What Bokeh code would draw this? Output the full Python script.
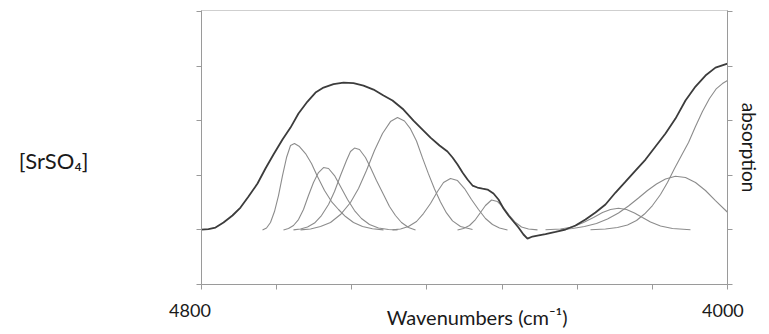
from bokeh.plotting import figure
from bokeh.models import Range1d, FixedTicker, LinearAxis
from bokeh.embed import file_html
from bokeh.resources import INLINE

# ---------------- data ----------------
x_ticks = [4800, 4685.7, 4571.4, 4457.1, 4342.9, 4228.6, 4114.3, 4000]
x_end_labels = ["4800", "4000"]
y_ticks = [0, 1, 2, 3, 4, 5]
y_label_pos = 2.28
y_label = "[SrSO\u2084]"
x_title = "Wavenumbers (cm\u207b\u00b9)"
r_title = "absorption"

spec_w = [4800, 4789.4, 4778.7, 4766.5, 4752.9, 4740.7, 4728.5, 4714.8, 4702.7, 4690.5,
          4676.8, 4664.6, 4652.5, 4638.8, 4626.6, 4614.4, 4599.2, 4584.0, 4568.8, 4553.6,
          4538.4, 4523.2, 4509.5, 4492.8, 4477.6, 4463.9, 4451.7, 4438.0, 4425.9, 4418.2,
          4410.6, 4403.0, 4395.4, 4387.8, 4380.3, 4372.6, 4365.0, 4355.9, 4348.3, 4340.7,
          4333.1, 4325.5, 4317.9, 4310.3, 4304.2, 4296.6, 4289.0, 4276.8, 4261.6, 4246.4,
          4231.2, 4216.0, 4200.8, 4185.6, 4170.3, 4155.1, 4140.0, 4124.7, 4109.5, 4094.3,
          4079.1, 4063.9, 4048.7, 4033.5, 4018.3, 4000]
spec_a = [1.007, 1.016, 1.044, 1.136, 1.264, 1.41, 1.612, 1.85, 2.125, 2.381,
          2.656, 2.875, 3.132, 3.352, 3.516, 3.608, 3.672, 3.70, 3.69, 3.645,
          3.571, 3.462, 3.37, 3.205, 3.004, 2.839, 2.692, 2.546, 2.436, 2.326,
          2.198, 2.051, 1.923, 1.813, 1.777, 1.758, 1.74, 1.667, 1.557, 1.392,
          1.264, 1.154, 1.044, 0.916, 0.842, 0.879, 0.897, 0.925, 0.962, 1.007,
          1.081, 1.19, 1.319, 1.465, 1.685, 1.886, 2.088, 2.289, 2.527, 2.766,
          3.04, 3.37, 3.626, 3.828, 3.974, 4.048]

c1_w = [4707.2, 4701.1, 4695.1, 4689.0, 4682.9, 4676.8, 4670.7, 4664.6, 4658.6, 4651.0,
        4641.8, 4632.7, 4623.6, 4612.9, 4602.3, 4591.6, 4581.0, 4568.8, 4555.1, 4540.0, 4523.2]
c1_a = [1.0, 1.035, 1.136, 1.337, 1.63, 1.996, 2.326, 2.546, 2.582, 2.527,
        2.399, 2.216, 1.978, 1.722, 1.52, 1.374, 1.245, 1.136, 1.062, 1.02, 1.0]

c2_w = [4675.3, 4667.7, 4660.1, 4652.5, 4644.9, 4637.3, 4629.7, 4622.1, 4614.4, 4606.8,
        4597.7, 4588.6, 4577.9, 4567.3, 4556.7, 4544.5, 4530.8, 4515.6, 4501.9]
c2_a = [1.0, 1.026, 1.081, 1.19, 1.374, 1.63, 1.868, 2.051, 2.143, 2.125,
        1.996, 1.795, 1.557, 1.355, 1.209, 1.099, 1.035, 1.009, 1.0]

c3_w = [4660.1, 4649.4, 4638.8, 4628.1, 4617.5, 4606.8, 4597.7, 4588.6, 4579.5, 4573.4,
        4567.3, 4559.7, 4550.6, 4543.0, 4533.9, 4523.2, 4514.1, 4505.0, 4495.8, 4485.2, 4474.5]
c3_a = [1.0, 1.016, 1.053, 1.126, 1.264, 1.465, 1.703, 1.996, 2.271, 2.436,
        2.5, 2.473, 2.326, 2.143, 1.905, 1.648, 1.429, 1.264, 1.136, 1.044, 1.0]

c4_w = [4649.4, 4634.2, 4619.0, 4603.8, 4588.6, 4573.4, 4561.2, 4549.1, 4536.9, 4524.7,
        4512.6, 4501.9, 4491.3, 4482.1, 4473.0, 4463.9, 4454.8, 4445.6, 4436.5, 4427.4,
        4418.2, 4406.1, 4387.8]
c4_a = [1.0, 1.016, 1.062, 1.136, 1.282, 1.502, 1.758, 2.088, 2.454, 2.766,
        2.985, 3.059, 2.996, 2.85, 2.63, 2.319, 2.026, 1.751, 1.513, 1.311,
        1.165, 1.064, 1.009]

c5_w = [4509.5, 4497.3, 4485.2, 4473.0, 4462.4, 4451.7, 4441.1, 4431.9, 4421.3, 4410.6,
        4400.0, 4389.4, 4378.7, 4368.1, 4357.4, 4346.8, 4334.6]
c5_a = [1.0, 1.016, 1.062, 1.154, 1.30, 1.484, 1.703, 1.868, 1.941, 1.905,
        1.758, 1.557, 1.374, 1.209, 1.099, 1.035, 1.0]

c6_w = [4410.6, 4401.5, 4392.4, 4383.3, 4375.7, 4368.1, 4358.9, 4349.8, 4340.7, 4331.6,
        4322.4, 4313.3, 4302.7, 4289.0]
c6_a = [1.0, 1.026, 1.081, 1.19, 1.319, 1.447, 1.548, 1.52, 1.41, 1.264,
        1.136, 1.053, 1.016, 1.0]

c7_w = [4276.8, 4254.0, 4235.8, 4219.0, 4203.8, 4190.1, 4178.0, 4165.8, 4153.6, 4141.5,
        4129.3, 4117.1, 4101.9, 4083.7, 4056.3]
c7_a = [1.002, 1.016, 1.053, 1.136, 1.227, 1.319, 1.374, 1.397, 1.374, 1.31,
        1.227, 1.145, 1.071, 1.026, 1.002]

c8_w = [4254.0, 4235.8, 4217.5, 4199.3, 4182.5, 4165.8, 4150.6, 4135.4, 4121.7, 4108.0,
        4094.3, 4079.1, 4063.9, 4048.7, 4033.5, 4018.3, 4000]
c8_a = [1.004, 1.026, 1.062, 1.117, 1.20, 1.31, 1.438, 1.584, 1.722, 1.841,
        1.932, 1.984, 1.96, 1.868, 1.722, 1.538, 1.324]

c9_w = [4208.4, 4185.6, 4167.3, 4152.1, 4138.4, 4126.3, 4114.1, 4101.9, 4091.3, 4080.6,
        4070.0, 4059.3, 4048.7, 4038.1, 4027.4, 4016.8, 4007.7, 4000]
c9_a = [1.004, 1.016, 1.044, 1.09, 1.172, 1.291, 1.447, 1.648, 1.868, 2.125,
        2.363, 2.601, 2.894, 3.168, 3.407, 3.59, 3.681, 3.736]

components = [(c1_w, c1_a), (c2_w, c2_a), (c3_w, c3_a), (c4_w, c4_a), (c5_w, c5_a),
              (c6_w, c6_a), (c7_w, c7_a), (c8_w, c8_a), (c9_w, c9_a)]

# ---------------- figure ----------------
FONT = "Lato"
AX = "#9a9a9a"
TXT = "#1a1a1a"
NB = "\u00a0"

p = figure(width=769, height=334, output_backend="svg", toolbar_location=None,
           x_range=Range1d(4800, 4000), y_range=Range1d(0, 5.02),
           min_border_left=201, min_border_right=42, min_border_top=10, min_border_bottom=50)
p.background_fill_color = "white"
p.border_fill_color = "white"
p.outline_line_color = "#cfcfcf"
p.xgrid.grid_line_color = None
p.ygrid.grid_line_color = None

def style_axis(ax):
    ax.axis_line_color = AX
    ax.major_tick_line_color = AX
    ax.minor_tick_line_color = AX
    ax.major_tick_out = 5
    ax.major_tick_in = 0
    ax.minor_tick_out = 5
    ax.minor_tick_in = 0
    ax.major_label_text_font = FONT
    ax.major_label_text_color = TXT
    ax.axis_label_text_font = FONT
    ax.axis_label_text_font_style = "normal"
    ax.axis_label_text_color = TXT

# bottom axis: ticks at 8 positions, labels only at the ends
xa = p.xaxis[0]
style_axis(xa)
xa.ticker = FixedTicker(ticks=[x_ticks[0], x_ticks[-1]], minor_ticks=x_ticks[1:-1])
xa.major_label_overrides = {x_ticks[0]: x_end_labels[0] + NB * 5,
                            x_ticks[-1]: x_end_labels[1] + NB * 2}
xa.major_label_text_font_size = "18px"
xa.major_label_standoff = 9
xa.axis_label = NB * 5 + x_title
xa.axis_label_text_font_size = "20px"
xa.axis_label_standoff = -19

# left axis: tick marks at 0..5 and the horizontal [SrSO4] label
ya = p.yaxis[0]
style_axis(ya)
ya.ticker = FixedTicker(ticks=[y_label_pos], minor_ticks=y_ticks)
ya.major_tick_line_color = None
ya.major_tick_out = 0
ya.major_label_overrides = {y_label_pos: y_label}
ya.major_label_text_font_size = "22px"
ya.major_label_standoff = 108

# right axis: tick marks and the rotated title
ry = LinearAxis(ticker=FixedTicker(ticks=[], minor_ticks=y_ticks))
style_axis(ry)
ry.major_label_standoff = 0
ry.axis_label = r_title
ry.axis_label_text_font_size = "19px"
ry.axis_label_standoff = 5
p.add_layout(ry, "right")

for cw, ca in components:
    p.line(cw, ca, line_color="#8c8c8c", line_width=1.1)
p.line(spec_w, spec_a, line_color="#3c3c3c", line_width=1.8)

open("out.html", "w").write(file_html(p, INLINE))
